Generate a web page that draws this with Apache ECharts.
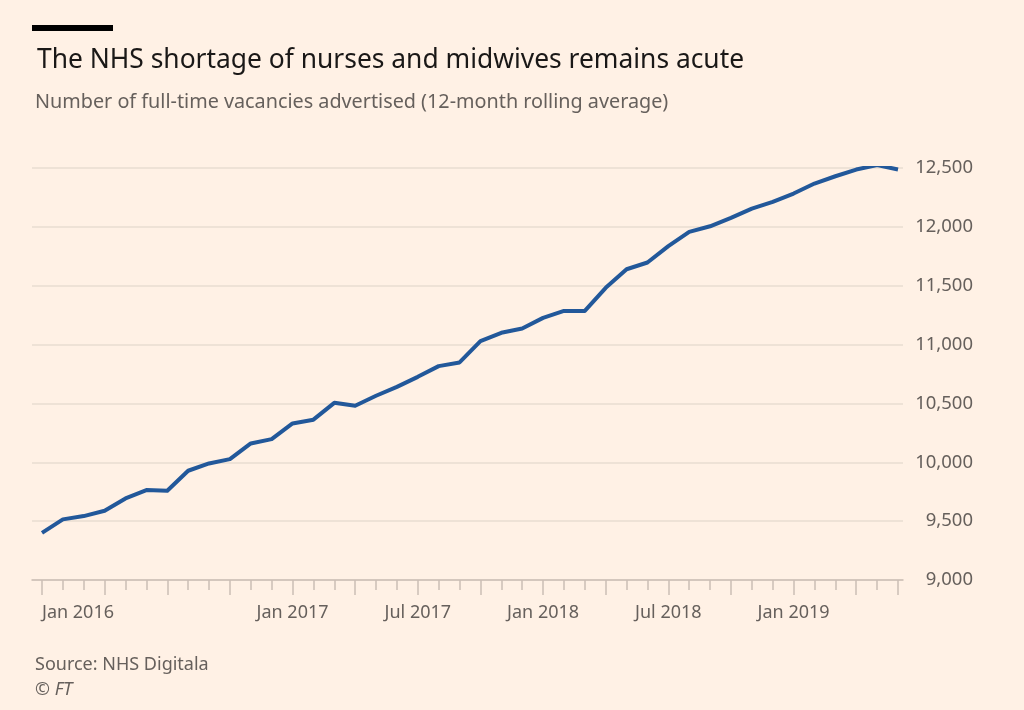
<!DOCTYPE html>
<html>
<head>
<meta charset="utf-8">
<script src="https://cdn.jsdelivr.net/npm/echarts@6/dist/echarts.min.js"></script>
<style>
html,body{margin:0;padding:0;background:#fff1e5;}
#c{width:1024px;height:710px;}
</style>
</head>
<body>
<div id="c"></div>
<script>
// Month categories (Jan 2016 – Jun 2019)
var months = [
  'Jan 2016','Feb 2016','Mar 2016','Apr 2016','May 2016','Jun 2016','Jul 2016','Aug 2016','Sep 2016','Oct 2016','Nov 2016','Dec 2016',
  'Jan 2017','Feb 2017','Mar 2017','Apr 2017','May 2017','Jun 2017','Jul 2017','Aug 2017','Sep 2017','Oct 2017','Nov 2017','Dec 2017',
  'Jan 2018','Feb 2018','Mar 2018','Apr 2018','May 2018','Jun 2018','Jul 2018','Aug 2018','Sep 2018','Oct 2018','Nov 2018','Dec 2018',
  'Jan 2019','Feb 2019','Mar 2019','Apr 2019','May 2019','Jun 2019'
];
// Full-time vacancies advertised, 12-month rolling average
var vacancies = [
  9400, 9515, 9543, 9588, 9693, 9764, 9758, 9928, 9990, 10027, 10160, 10197,
  10330, 10362, 10505, 10480, 10565, 10641, 10726, 10817, 10848, 11029, 11100, 11137,
  11227, 11286, 11286, 11482, 11640, 11697, 11836, 11957, 12005, 12076, 12155, 12212,
  12283, 12368, 12430, 12487, 12526, 12487
];
// Labelled x ticks
var xTickLabels = ['Jan 2016','Jan 2017','Jul 2017','Jan 2018','Jul 2018','Jan 2019'];
// Y axis range
var yMin = 9000, yMax = 12500, yStep = 500;

var seriesData = vacancies.map(function (v, i) { return [i, v]; });
var lastIdx = months.length - 1;

var textGray = '#66605c';
var font = 'Noto Sans';

var chart = echarts.init(document.getElementById('c'), null, {renderer: 'canvas'});
chart.setOption({
  backgroundColor: '#fff1e5',
  animation: false,
  title: [
    {text: 'The NHS shortage of nurses and midwives remains acute', left: 32, top: 42,
     textStyle: {fontFamily: font, fontSize: 26.4, fontWeight: 'normal', color: '#1a1817'}},
    {text: 'Number of full-time vacancies advertised (12-month rolling average)', left: 30, top: 87,
     textStyle: {fontFamily: font, fontSize: 19.8, fontWeight: 'normal', color: textGray}},
    {text: 'Source: NHS Digitala', left: 30, top: 651,
     textStyle: {fontFamily: font, fontSize: 18, fontWeight: 'normal', color: textGray}},
    {text: '© {i|FT}', left: 30, top: 676,
     textStyle: {fontFamily: font, fontSize: 18, fontWeight: 'normal', color: textGray,
       rich: {i: {fontFamily: font, fontSize: 18, fontStyle: 'italic', color: textGray}}}}
  ],
  graphic: [
    {type: 'rect', shape: {x: 32, y: 25, width: 81, height: 6}, style: {fill: '#000000'}}
  ],
  grid: [
    {left: 32, right: 121, top: 168, bottom: 130},
    {left: 42, right: 126, top: 168, bottom: 130}
  ],
  xAxis: [
    {gridIndex: 0, type: 'value', position: 'bottom', min: 0, max: 1, axisLabel: {show: false}, axisTick: {show: false},
     splitLine: {show: false}, axisLine: {show: true, lineStyle: {color: '#cbbfb5', width: 1.5}}},
    {gridIndex: 1, type: 'value', position: 'bottom', min: 0, max: lastIdx, interval: 1, axisLabel: {show: false},
     axisLine: {show: false}, splitLine: {show: false},
     axisTick: {show: true, length: 10, lineStyle: {color: '#cbbfb5', width: 1.5}}},
    {gridIndex: 1, type: 'value', position: 'bottom', offset: 0, min: 0, max: lastIdx, interval: 3,
     axisLine: {show: false}, splitLine: {show: false},
     axisTick: {show: true, length: 15, lineStyle: {color: '#cbbfb5', width: 1.5}},
     axisLabel: {show: true, margin: 24, fontFamily: font, fontSize: 18, color: textGray,
       alignMinLabel: 'left',
       formatter: function (v) {
         var name = months[Math.round(v)];
         return xTickLabels.indexOf(name) >= 0 ? name : '';
       }}}
  ],
  yAxis: [
    {gridIndex: 0, type: 'value', position: 'right', min: yMin, max: yMax, interval: yStep,
     axisLine: {show: false}, axisTick: {show: false},
     splitLine: {show: true, lineStyle: {color: '#e8dcd0', width: 1.5}},
     axisLabel: {margin: 70, align: 'right', fontFamily: font, fontSize: 18.5, color: textGray,
       formatter: function (v) { return v.toLocaleString('en-US'); }}},
    {gridIndex: 1, type: 'value', min: yMin, max: yMax, show: false}
  ],
  series: [
    {type: 'line', xAxisIndex: 1, yAxisIndex: 1, data: seriesData, showSymbol: false, symbol: 'none',
     lineStyle: {color: '#22589a', width: 4, join: 'round'}}
  ]
});
</script>
</body>
</html>
